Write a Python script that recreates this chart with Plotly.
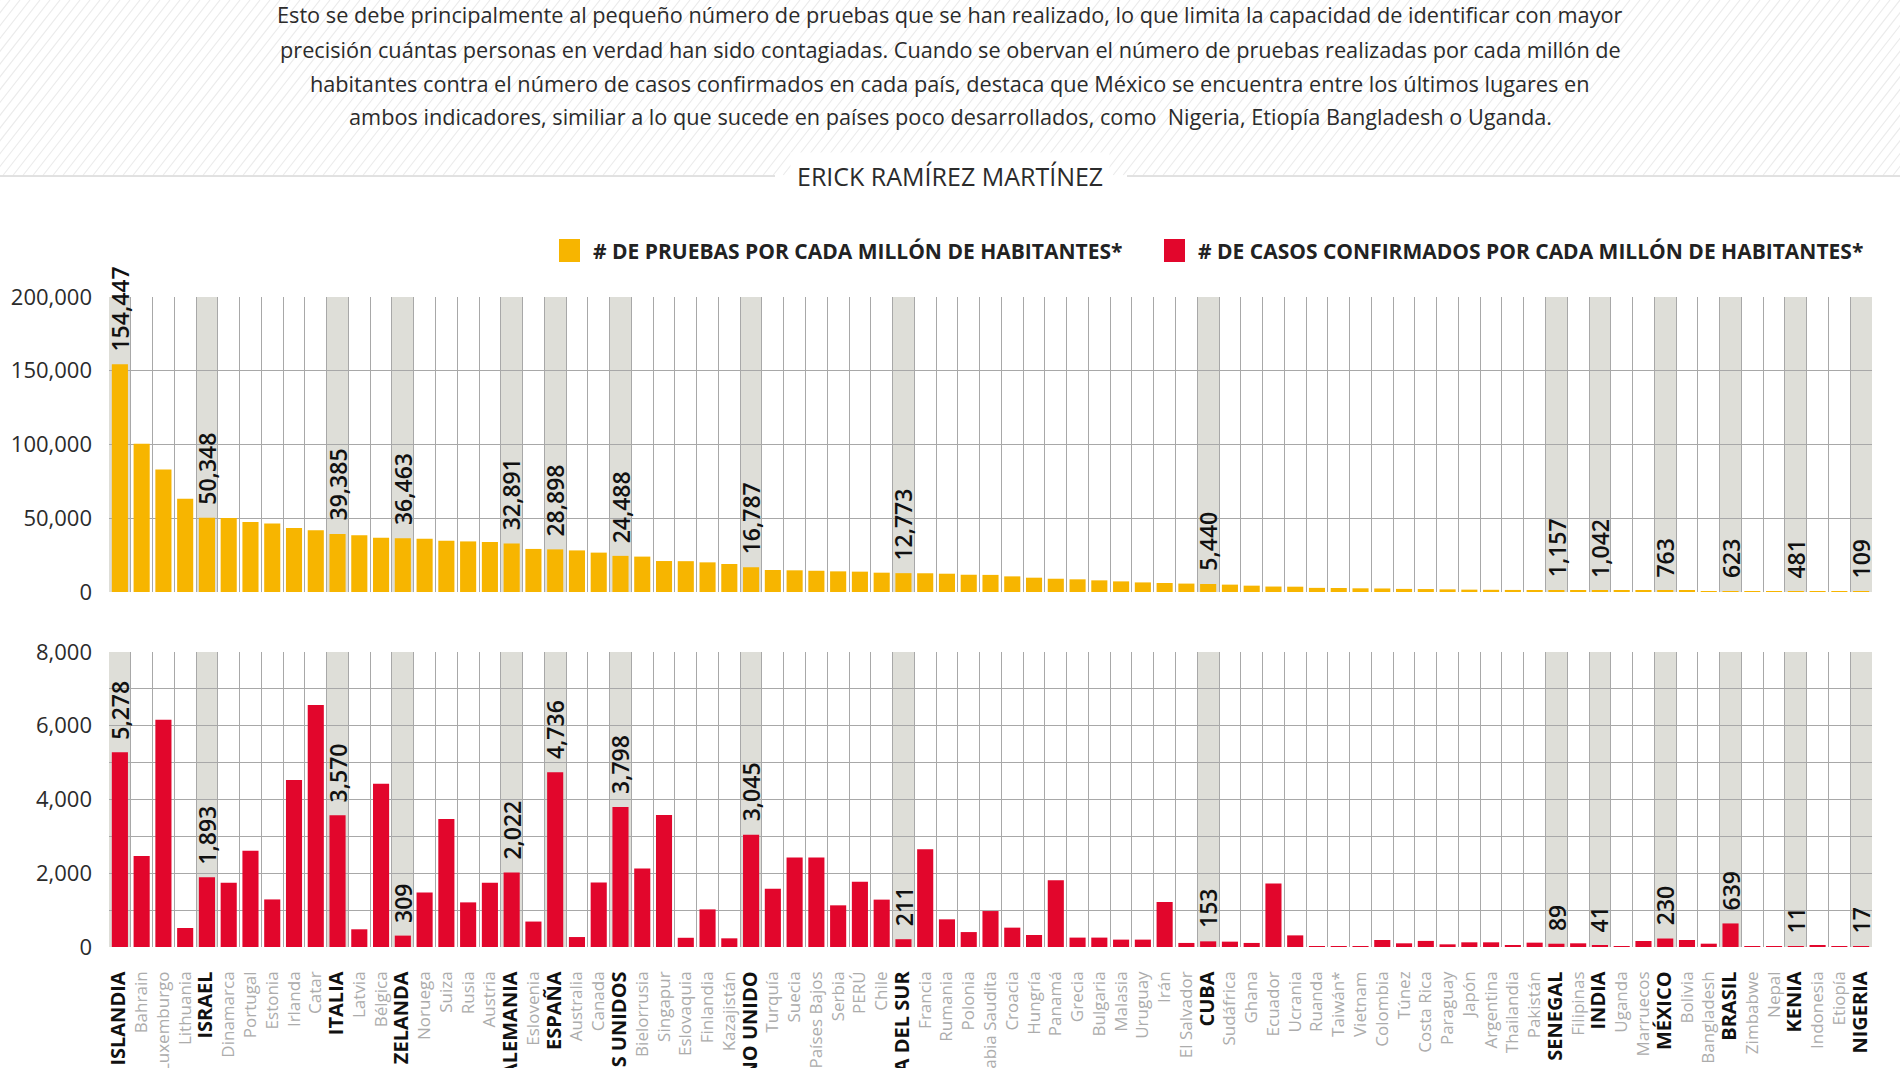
import math
import plotly.graph_objects as go

W, H = 1900, 1068

countries = [
    "ISLANDIA", "Bahrain", "Luxemburgo", "Lithuania", "ISRAEL", "Dinamarca", "Portugal",
    "Estonia", "Irlanda", "Catar", "ITALIA", "Latvia", "Bélgica", "NUEVA ZELANDA",
    "Noruega", "Suiza", "Rusia", "Austria", "ALEMANIA", "Eslovenia", "ESPAÑA",
    "Australia", "Canada", "ESTADOS UNIDOS", "Bielorrusia", "Singapur", "Eslovaquia",
    "Finlandia", "Kazajistán", "REINO UNIDO", "Turquía", "Suecia", "Países Bajos",
    "Serbia", "PERÚ", "Chile", "COREA DEL SUR", "Francia", "Rumania", "Polonia",
    "Arabia Saudita", "Croacia", "Hungría", "Panamá", "Grecia", "Bulgaria", "Malasia",
    "Uruguay", "Irán", "El Salvador", "CUBA", "Sudáfrica", "Ghana", "Ecuador",
    "Ucrania", "Ruanda", "Taiwán*", "Vietnam", "Colombia", "Túnez", "Costa Rica",
    "Paraguay", "Japón", "Argentina", "Thailandia", "Pakistán", "SENEGAL",
    "Filipinas", "INDIA", "Uganda", "Marruecos", "MÉXICO", "Bolivia", "Bangladesh",
    "BRASIL", "Zimbabwe", "Nepal", "KENIA", "Indonesia", "Etiopía", "NIGERIA",
]

highlighted = [
    "ISLANDIA", "ISRAEL", "ITALIA", "NUEVA ZELANDA", "ALEMANIA", "ESPAÑA",
    "ESTADOS UNIDOS", "REINO UNIDO", "COREA DEL SUR", "CUBA", "SENEGAL", "INDIA",
    "MÉXICO", "BRASIL", "KENIA", "NIGERIA",
]

# pruebas por cada millón de habitantes
tests_per_million = [
    154447, 100500, 83000, 63300, 50348, 50100, 47500, 46500, 43400, 41800,
    39385, 38400, 36700, 36463, 36100, 34800, 34300, 33900, 32891, 29200,
    28898, 28200, 26700, 24488, 24000, 21000, 20900, 20100, 19000, 16787,
    14900, 14700, 14400, 14000, 13800, 13100, 12773, 12700, 12400, 11700,
    11600, 10600, 9700, 9000, 8600, 7900, 7200, 6500, 6100, 5700,
    5440, 5000, 4300, 3700, 3600, 2800, 2700, 2500, 2400, 2100,
    2000, 1800, 1600, 1500, 1400, 1250, 1157, 1100, 1042, 950,
    880, 763, 700, 650, 623, 590, 520, 481, 330, 240, 109,
]

# casos confirmados por cada millón de habitantes
cases_per_million = [
    5278, 2470, 6160, 515, 1893, 1740, 2610, 1290, 4530, 6560,
    3570, 480, 4430, 309, 1480, 3470, 1210, 1745, 2022, 690,
    4736, 270, 1750, 3798, 2130, 3580, 250, 1020, 235, 3045,
    1580, 2430, 2430, 1130, 1770, 1285, 211, 2650, 750, 405,
    975, 525, 325, 1810, 255, 255, 200, 200, 1220, 110,
    153, 145, 110, 1720, 315, 25, 18, 3, 190, 100,
    165, 72, 127, 127, 40, 118, 89, 100, 41, 2,
    163, 230, 190, 90, 639, 2, 2, 11, 45, 1, 17,
]

tests_ticks = [0, 50000, 100000, 150000, 200000]
cases_ticks = [0, 2000, 4000, 6000, 8000]

paragraph = [
    "Esto se debe principalmente al pequeño número de pruebas que se han realizado, lo que limita la capacidad de identificar con mayor",
    "precisión cuántas personas en verdad han sido contagiadas. Cuando se obervan el número de pruebas realizadas por cada millón de",
    "habitantes contra el número de casos confirmados en cada país, destaca que México se encuentra entre los últimos lugares en",
    "ambos indicadores, similiar a lo que sucede en países poco desarrollados, como  Nigeria, Etiopía Bangladesh o Uganda.",
]
author = "ERICK RAMÍREZ MARTÍNEZ"
legend_tests = "# DE PRUEBAS POR CADA MILLÓN DE HABITANTES*"
legend_cases = "# DE CASOS CONFIRMADOS POR CADA MILLÓN DE HABITANTES*"

YELLOW = "#F7B500"
RED = "#E2062C"
HIGHLIGHT = "#DEDED8"
GRID = "#A8A8A8"
FONT = "Open Sans"


def px_x(p):
    return p / W


def px_y(p):
    return 1 - p / H


x_dom = [px_x(109), px_x(1872)]
y1_dom = [px_y(592), px_y(297)]
y2_dom = [px_y(947), px_y(652)]

fig = go.Figure()
fig.add_trace(go.Bar(x=countries, y=tests_per_million, marker=dict(color=YELLOW, line_width=0),
                     width=0.74, xaxis="x", yaxis="y", showlegend=False,
                     name=legend_tests))
fig.add_trace(go.Bar(x=countries, y=cases_per_million, marker=dict(color=RED, line_width=0),
                     width=0.74, xaxis="x2", yaxis="y2", showlegend=False,
                     name=legend_cases))

shapes = []
annotations = []
idx = {c: i for i, c in enumerate(countries)}

# highlighted columns
for c in highlighted:
    i = idx[c]
    for xr, yr in (("x", "y domain"), ("x2", "y2 domain")):
        shapes.append(dict(type="rect", xref=xr, yref=yr, x0=i - 0.5, x1=i + 0.5, y0=0, y1=1,
                           fillcolor=HIGHLIGHT, line=dict(width=0), layer="below"))

# value labels
for c in highlighted:
    i = idx[c]
    for xr, yr, vals in (("x", "y", tests_per_million), ("x2", "y2", cases_per_million)):
        annotations.append(dict(x=c, y=vals[i], xref=xr, yref=yr, text=f"{vals[i]:,}",
                                textangle=-90, showarrow=False, xanchor="center",
                                yanchor="bottom", yshift=11,
                                font=dict(family=FONT, size=23, color="#111", weight=600)))

# hatched header background
hatch_h = 175
ang = math.radians(52)
dx = hatch_h / math.tan(ang)
segs = []
x = -dx
while x < W + 10:
    segs.append(f"M{px_x(x):.5f},{px_y(hatch_h):.5f} L{px_x(x + dx):.5f},{px_y(0):.5f}")
    x += 10
shapes.append(dict(type="path", xref="paper", yref="paper", path=" ".join(segs),
                   line=dict(color="#EBEBEB", width=1.2), layer="below"))

# author rule lines
shapes.append(dict(type="line", xref="paper", yref="paper", x0=0, x1=px_x(775),
                   y0=px_y(176), y1=px_y(176), line=dict(color="#C4C4C4", width=1)))
shapes.append(dict(type="line", xref="paper", yref="paper", x0=px_x(1127), x1=1,
                   y0=px_y(176), y1=px_y(176), line=dict(color="#C4C4C4", width=1)))

for k, line in enumerate(paragraph):
    annotations.append(dict(x=0.5, y=px_y(15 + 34 * k), xref="paper", yref="paper", text=line,
                            showarrow=False, xanchor="center", yanchor="middle",
                            font=dict(family=FONT, size=21.7, color="#2B2B2B")))

annotations.append(dict(x=0.5, y=px_y(176), xref="paper", yref="paper", text=author,
                        showarrow=False, xanchor="center", yanchor="middle", bgcolor="white",
                        borderpad=6,
                        font=dict(family=FONT, size=25, color="#2B2B2B")))

# legend
for x0, col, txt in ((559, YELLOW, legend_tests), (1164, RED, legend_cases)):
    shapes.append(dict(type="rect", xref="paper", yref="paper", x0=px_x(x0), x1=px_x(x0 + 21),
                       y0=px_y(262), y1=px_y(239), fillcolor=col, line=dict(width=0)))
    annotations.append(dict(x=px_x(x0 + 32), y=px_y(251), xref="paper", yref="paper", text=txt,
                            showarrow=False, xanchor="left", yanchor="middle",
                            font=dict(family=FONT, size=21, color="#222", weight=700)))

ticktext = []
for c in countries:
    if c in highlighted:
        ticktext.append(f"<b><span style='font-size:20px;color:#111'>{c}</span></b>")
    else:
        ticktext.append(c)

common_x = dict(type="category", tickson="boundaries", showgrid=True, gridcolor=GRID, gridwidth=1,
                ticks="", showline=False, zeroline=False, automargin=False, domain=x_dom,
                range=[-0.5, len(countries) - 0.5], fixedrange=True)

fig.update_layout(
    width=W, height=H, autosize=False,
    margin=dict(l=0, r=0, t=0, b=0),
    paper_bgcolor="white", plot_bgcolor="white",
    bargap=0.2,
    xaxis=dict(common_x, anchor="y", showticklabels=False),
    yaxis=dict(domain=y1_dom, anchor="x", range=[0, 200000], tickmode="array", tickvals=tests_ticks,
               tickformat=",d", showgrid=True, gridcolor=GRID, zeroline=False, ticks="",
               ticklabelstandoff=16, automargin=False,
               tickfont=dict(family=FONT, size=22, color="#2B2B2B")),
    xaxis2=dict(common_x, anchor="y2", showticklabels=True, tickangle=-90, tickmode="array",
                tickvals=countries, ticktext=ticktext, ticklabelstandoff=20,
                tickfont=dict(family=FONT, size=17, color="#ACACAC")),
    yaxis2=dict(domain=y2_dom, anchor="x2", range=[0, 8000], tickmode="array", tickvals=cases_ticks,
                tickformat=",d", showgrid=True, gridcolor=GRID, zeroline=False, ticks="",
                minor=dict(dtick=1000, tick0=0, showgrid=True, gridcolor=GRID),
                ticklabelstandoff=16, automargin=False,
                tickfont=dict(family=FONT, size=22, color="#2B2B2B")),
    shapes=shapes,
    annotations=annotations,
)

fig.write_html("out.html", config={"displayModeBar": False},
               post_script="document.body.style.margin='0';document.body.style.overflow='hidden';")
